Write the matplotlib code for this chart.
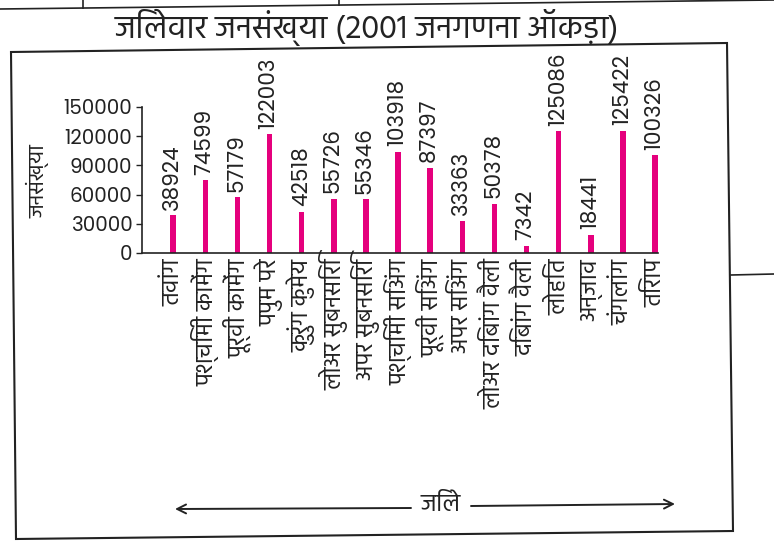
import matplotlib
matplotlib.use("Agg")
import matplotlib.pyplot as plt
from matplotlib import font_manager as fm
from matplotlib.lines import Line2D
from matplotlib.patches import Polygon

# ---------------- data ----------------
districts = ["तवांग", "पश्चिमी कामेंग", "पूर्वी कामेंग", "पपुम परे", "कुरुंग कुमेय",
             "लोअर सुबनसिरि", "अपर सुबनसिरि", "पश्चिमी सिअंग", "पूर्वी सिअंग",
             "अपर सिअंग", "लोअर दिबांग वैली", "दिबांग वैली", "लोहित", "अन्जाव",
             "चंगलांग", "तिराप"]
population = [38924, 74599, 57179, 122003, 42518, 55726, 55346, 103918, 87397,
              33363, 50378, 7342, 125086, 18441, 125422, 100326]
yticks = [0, 30000, 60000, 90000, 120000, 150000]
title = "जिलेवार जनसंख्या (2001 जनगणना ऑकड़ा)"
ylabel = "जनसंख्या"
xlabel = "जिले"

# ---------------- fonts ----------------
available = {f.name for f in fm.fontManager.ttflist}
pref = ['Hind', 'Mukta', 'Noto Sans Devanagari', 'Akshar', 'Amiko']
dev = [p for p in pref if p in available][:1]
DEV = dev + ['DejaVu Sans']
NUM = [p for p in ['Poppins'] if p in available] + ['DejaVu Sans']
plt.rcParams['font.family'] = DEV
TXT = '#222222'

W, H = 774, 546
fig = plt.figure(figsize=(W / 100, H / 100), dpi=100)

def fx(x):
    return x / W

def fy(y):
    return 1 - y / H

ax = fig.add_axes([fx(142), fy(253), (658 - 142) / W, (253 - 107) / H])
xs = list(range(len(districts)))
ax.bar(xs, population, width=0.17, color='#E5007D', zorder=2)
ax.set_xlim(-0.97, len(districts) - 1 + 0.09)
ax.set_ylim(0, 150000)
ax.set_yticks(yticks)
ax.set_yticklabels([str(t) for t in yticks], family=NUM, fontsize=14.3,
                   color=TXT)
ax.tick_params(axis='y', length=4.5, width=1, pad=2.5, colors=TXT)
ax.set_xticks(xs)
ax.set_xticklabels(districts, rotation=90, fontsize=17, color=TXT)
ax.tick_params(axis='x', length=0, pad=4)
for s in ['top', 'right']:
    ax.spines[s].set_visible(False)
for s in ['left', 'bottom']:
    ax.spines[s].set_color(TXT)
    ax.spines[s].set_linewidth(1.2)

for i, v in enumerate(population):
    ax.annotate(str(v), (i, v), xytext=(0, 4), textcoords='offset points',
                rotation=90, ha='center', va='bottom', fontsize=15.5,
                family=NUM, color=TXT)

# y label
fig.text(fx(38), fy(181), ylabel, rotation=90, ha='center', va='center',
         fontsize=15.5, color=TXT)

# title, scaled to the reference width
t = fig.text(fx(367), fy(27), title, ha='center', va='center', fontsize=20,
             color=TXT)
fig.canvas.draw()
w = t.get_window_extent().width
t.set_fontsize(20 * 505 / w)

# x label with arrows
fig.text(fx(441), fy(505), xlabel, ha='center', va='center', fontsize=17.5,
         color=TXT)
arrow_kw = dict(arrowstyle='->', lw=1.4, color=TXT, mutation_scale=16,
                shrinkA=0, shrinkB=0)
ax.annotate('', xy=(175, H - 509), xytext=(411, H - 508),
            xycoords='figure pixels', textcoords='figure pixels',
            arrowprops=arrow_kw, annotation_clip=False)
ax.annotate('', xy=(675, H - 504), xytext=(471, H - 506),
            xycoords='figure pixels', textcoords='figure pixels',
            arrowprops=arrow_kw, annotation_clip=False)

# frame and scan edges
box = Polygon([(fx(11), fy(52)), (fx(727), fy(43)), (fx(733), fy(531)),
               (fx(16), fy(539))], closed=True, fill=False, edgecolor=TXT,
              lw=1.5, transform=fig.transFigure)
fig.add_artist(box)
for (x0, y0, x1, y1) in [(0, 9, 774, 0), (83, 0, 83, 8), (339, 0, 339, 5),
                         (731, 275, 774, 274)]:
    fig.add_artist(Line2D([fx(x0), fx(x1)], [fy(y0), fy(y1)], color=TXT,
                          lw=1.2, transform=fig.transFigure))

fig.savefig("out.png", dpi=100)
